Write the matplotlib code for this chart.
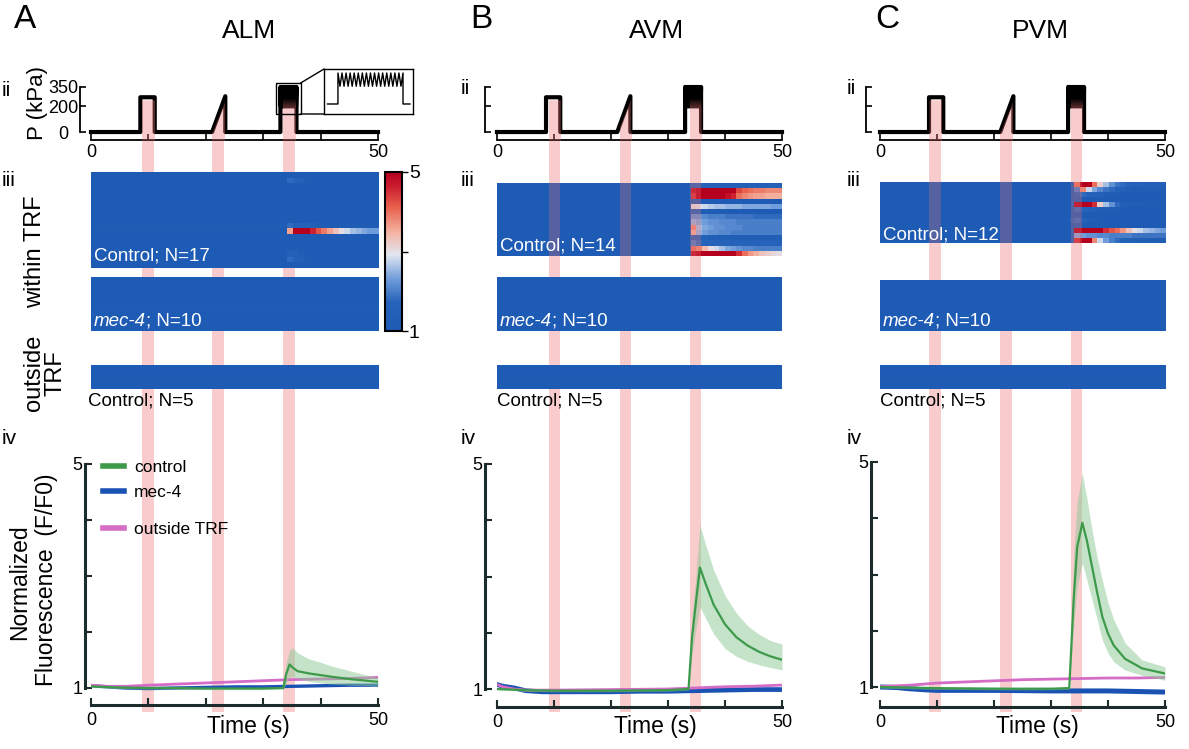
import numpy as np
import matplotlib
matplotlib.use('Agg')
import matplotlib.pyplot as plt
from matplotlib.colors import LinearSegmentedColormap
from matplotlib.patches import Rectangle, ConnectionPatch
from matplotlib.lines import Line2D
from matplotlib.text import Annotation

plt.rcParams['font.family'] = ['Liberation Sans', 'DejaVu Sans']

# ------------------------------------------------------------------ data
T_MAX = 50
titles = ['ALM', 'AVM', 'PVM']
letters = ['A', 'B', 'C']

# stimulus protocol (time s, pressure kPa)
press_t_pre = [0, 8.6, 8.6, 11.1, 11.1, 21.1, 23.4, 23.4, 33.0]
press_v_pre = [0, 0, 270, 270, 0, 0, 278, 0, 0]
osc_vals = [350, 200, 350, 200, 350, 200, 350, 200, 350, 200, 350, 200, 350,
            200, 350, 200, 350, 200, 350, 200, 350, 200, 350, 200, 350, 200,
            350, 200, 350, 200, 350, 200, 350]
osc_start, osc_end = 33.0, 35.8
press_t_post = [35.8, 50]
press_v_post = [0, 0]

# pink stimulus windows per cell (s)
bands_A = [(8.8, 10.9), (21.0, 23.1), (33.4, 35.5)]
bands_B = [(9.1, 11.1), (21.6, 23.5), (33.9, 35.8)]
bands_C = [(8.6, 10.7), (21.1, 23.2), (33.5, 35.4)]
band_tops = [250, 250, 265]

# heatmaps: rows, per-row constant level, per-row values of 1-s bins from t=33
RESP_BIN0 = 33
A_ctrl_rows = 17
A_ctrl_level = {9: 1.2}
A_ctrl_resp = {
    1: [1.0, 1.8, 1.7, 1.5, 1.3],
    9: [1.2, 1.8, 1.6, 1.7, 1.6, 1.5, 1.4, 1.3],
    10: [1.0, 3.6, 5.0, 5.0, 5.0, 4.6, 4.2, 3.9, 3.6, 3.3, 3.0, 2.8, 2.6, 2.5, 2.4, 2.3, 2.3],
    14: [1.0, 1.6, 1.5, 1.3],
    15: [1.0, 1.8, 1.6, 1.5, 1.3],
}
A_mec_rows = 10
A_mec_level = {5: 1.15}
A_out_rows = 5
A_out_level = {3: 1.1}

B_ctrl_rows = 14
B_ctrl_level = {}
B_ctrl_resp = {
    0: [1.2, 1.6, 1.7, 1.7, 1.6, 1.6, 1.6, 1.5, 1.5, 1.5, 1.5, 1.5, 1.5, 1.5, 1.5, 1.5, 1.5],
    1: [1.0, 4.8, 5.0, 5.0, 5.0, 5.0, 5.0, 5.0, 5.0, 4.3, 4.1, 4.0, 3.9, 3.9, 3.8, 3.8, 3.8],
    2: [1.0, 4.5, 5.0, 5.0, 5.0, 5.0, 5.0, 4.8, 4.6, 4.0, 3.8, 3.7, 3.6, 3.6, 3.5, 3.5, 3.5],
    4: [1.0, 3.0, 2.9, 2.8, 2.7, 2.6, 2.6, 2.5, 2.5, 2.5, 2.4, 2.4, 2.4, 2.4, 2.4, 2.3, 2.3],
    5: [1.0, 1.4, 1.3, 1.3, 1.2, 1.2, 1.2, 1.2],
    6: [1.0, 2.2, 2.2, 2.1, 2.0, 2.0, 2.0, 1.9, 1.9, 1.9, 1.9, 1.9, 1.8, 1.8, 1.8, 1.8, 1.8],
    7: [1.0, 2.5, 2.4, 2.3, 2.2, 2.2, 2.1, 2.1, 2.1, 2.0, 2.0, 2.0, 2.0, 2.0, 2.0, 2.0, 2.0],
    8: [1.0, 3.8, 2.6, 2.4, 2.3, 2.2, 2.2, 2.1, 2.1, 2.1, 2.0, 2.0, 2.0, 2.0, 2.0, 2.0, 2.0],
    9: [1.0, 3.5, 2.5, 2.3, 2.2, 2.2, 2.1, 2.1, 2.0, 2.0, 2.0, 2.0, 2.0, 2.0, 2.0, 2.0, 2.0],
    10: [1.0, 1.6, 1.5, 1.5, 1.4, 1.4, 1.4, 1.4, 1.4, 1.4, 1.4, 1.4, 1.4, 1.4, 1.4, 1.4, 1.4],
    11: [1.0, 2.0, 1.8, 1.7, 1.7, 1.7, 1.7, 1.7, 1.7, 1.7, 1.7, 1.7, 1.7, 1.7, 1.7, 1.7, 1.7],
    12: [1.0, 4.0, 3.8, 3.4, 3.0, 2.8, 2.6, 2.4, 2.3, 2.2, 2.1, 2.1, 2.0, 2.0, 2.0, 2.0, 2.0],
    13: [1.0, 4.8, 5.0, 5.0, 5.0, 5.0, 5.0, 5.0, 5.0, 4.5, 4.0, 3.7, 3.5, 3.3, 3.2, 3.1, 3.0],
}
B_mec_rows = 10
B_mec_level = {}
B_out_rows = 5
B_out_level = {3: 1.1}

C_ctrl_rows = 12
C_ctrl_level = {}
C_ctrl_resp = {
    0: [1.0, 4.0, 5.0, 5.0, 4.0, 3.2, 2.6, 2.2, 1.9, 1.8, 1.7, 1.6, 1.6, 1.5, 1.5, 1.5, 1.5],
    1: [1.0, 2.0, 3.8, 2.8, 2.4, 2.1, 1.9, 1.8, 1.6, 1.5, 1.4, 1.3, 1.3, 1.3, 1.3, 1.3, 1.3],
    2: [1.0, 1.6, 1.8, 1.7, 1.6, 1.5, 1.4, 1.3, 1.2],
    4: [1.0, 5.0, 5.0, 5.0, 4.5, 3.2, 2.6, 2.2, 1.8, 1.5, 1.4, 1.3, 1.3, 1.2, 1.2, 1.2, 1.2],
    5: [1.0, 1.8, 1.7, 1.6, 1.5, 1.4, 1.3, 1.3, 1.2],
    7: [1.5, 1.8, 1.7, 1.4, 1.3, 1.2],
    9: [1.0, 5.0, 5.0, 5.0, 5.0, 5.0, 4.5, 4.2, 4.0, 3.7, 3.3, 3.0, 2.8, 2.6, 2.5, 2.4, 2.3],
    10: [1.0, 2.4, 2.3, 2.2, 2.2, 2.1, 2.1, 2.0, 2.0, 2.0, 2.0, 1.9, 1.9, 1.9, 1.9, 1.9, 1.9],
    11: [1.0, 4.5, 5.0, 5.0, 3.8, 2.8, 2.3, 2.0, 1.8, 1.6, 1.5, 1.4, 1.4, 1.3, 1.3, 1.3, 1.3],
}
C_mec_rows = 10
C_mec_level = {}
C_out_rows = 5
C_out_level = {3: 1.1}

# normalized fluorescence traces (F/F0)
gA_t = [0, 2, 5, 10, 15, 20, 25, 30, 33.5, 34.0, 34.6, 35.2, 36.0, 37, 38, 40, 42, 45, 48, 50]
gA_v = [1.03, 1.02, 1.01, 1.0, 1.0, 0.99, 0.99, 0.99, 1.0, 1.25, 1.42, 1.36, 1.3, 1.28, 1.26, 1.23, 1.2, 1.16, 1.13, 1.11]
gA_hi = [1.05, 1.04, 1.03, 1.02, 1.02, 1.01, 1.01, 1.01, 1.02, 1.45, 1.68, 1.71, 1.63, 1.57, 1.52, 1.46, 1.39, 1.31, 1.23, 1.19]
gA_lo = [1.01, 1.0, 0.99, 0.98, 0.98, 0.97, 0.97, 0.97, 0.98, 1.08, 1.2, 1.2, 1.17, 1.14, 1.12, 1.09, 1.07, 1.05, 1.04, 1.03]
bA_t = [0, 3, 6, 10, 15, 20, 25, 30, 35, 40, 45, 50]
bA_v = [1.04, 1.02, 1.0, 0.99, 1.0, 1.01, 1.02, 1.02, 1.03, 1.04, 1.05, 1.05]
pA_t = [0, 3, 6, 10, 15, 20, 25, 30, 35, 40, 45, 50]
pA_v = [1.05, 1.03, 1.03, 1.05, 1.07, 1.09, 1.11, 1.13, 1.15, 1.16, 1.17, 1.19]

gB_t = [0, 5, 10, 20, 30, 33.6, 34.2, 34.8, 35.6, 36.5, 38, 40, 42, 44, 46, 48, 50]
gB_v = [1.0, 0.98, 0.97, 0.97, 0.98, 1.0, 1.9, 2.45, 3.16, 2.9, 2.5, 2.15, 1.92, 1.77, 1.66, 1.58, 1.52]
gB_hi = [1.02, 1.0, 0.99, 0.99, 1.0, 1.02, 2.3, 2.9, 3.92, 3.6, 3.12, 2.66, 2.35, 2.12, 1.97, 1.86, 1.8]
gB_lo = [0.98, 0.96, 0.95, 0.95, 0.96, 0.98, 1.6, 2.0, 2.46, 2.28, 1.98, 1.72, 1.58, 1.49, 1.43, 1.38, 1.34]
bB_t = [0, 1, 3, 5, 8, 12, 20, 25, 30, 35, 40, 45, 50]
bB_v = [1.08, 1.05, 1.02, 0.97, 0.95, 0.95, 0.95, 0.96, 0.96, 0.97, 0.98, 0.99, 0.99]
pB_t = [0, 1, 3, 5, 10, 20, 30, 35, 40, 45, 50]
pB_v = [1.08, 1.04, 1.0, 0.98, 0.98, 0.99, 1.0, 1.02, 1.04, 1.05, 1.07]

gC_t = [0, 5, 10, 20, 30, 33.2, 34.0, 34.6, 35.5, 36.3, 37.2, 38.1, 39, 40, 41, 43, 46, 50]
gC_v = [1.0, 0.99, 0.98, 0.97, 0.97, 0.98, 2.6, 3.49, 3.92, 3.6, 3.14, 2.68, 2.25, 1.95, 1.74, 1.5, 1.33, 1.24]
gC_hi = [1.02, 1.01, 1.0, 0.99, 0.99, 1.0, 3.4, 4.3, 4.8, 4.35, 3.79, 3.3, 2.9, 2.5, 2.2, 1.78, 1.48, 1.36]
gC_lo = [0.98, 0.97, 0.96, 0.95, 0.95, 0.96, 2.1, 2.8, 3.2, 2.9, 2.55, 2.2, 1.84, 1.6, 1.45, 1.3, 1.21, 1.12]
bC_t = [0, 3, 5, 8, 10, 15, 20, 30, 40, 50]
bC_v = [1.0, 0.99, 0.97, 0.95, 0.94, 0.94, 0.94, 0.93, 0.93, 0.91]
pC_t = [0, 5, 10, 15, 20, 25, 30, 35, 40, 45, 50]
pC_v = [1.01, 1.03, 1.07, 1.09, 1.11, 1.13, 1.14, 1.15, 1.16, 1.16, 1.17]

legend_labels = ['control', 'mec-4', 'outside TRF']
ctrl_labels = ['Control; N=17', 'Control; N=14', 'Control; N=12']

# ------------------------------------------------------------------ style
W, H = 1189, 749
BAND = '#ec7272'
BAND_A = 0.36
GREEN, GREEN_FILL = '#3d9a4b', '#8cc995'
BLUE, PINK = '#1a52b3', '#d56cc6'
SPINE = '#1c2b2b'
cmap = LinearSegmentedColormap.from_list('hm', [
    (0.0, '#1d5bb4'), (0.18, '#2663ba'), (0.33, '#729edb'), (0.48, '#e2e6f0'),
    (0.62, '#f4b3a2'), (0.78, '#e8604c'), (0.9, '#cd2232'), (1.0, '#b4001e')])

fig = plt.figure(figsize=(W / 100, H / 100), dpi=100)


def px_ax(x0, y0, x1, y1):
    ax = fig.add_axes([x0 / W, 1 - y1 / H, (x1 - x0) / W, (y1 - y0) / H])
    ax.set_zorder(2)
    ax.patch.set_alpha(0)
    return ax


def ftext(x, y, s, **kw):
    return fig.text(x / W, 1 - y / H, s, **kw)


def build_hm(n, level, resp):
    m = np.ones((n, T_MAX))
    for r, v in level.items():
        m[r, :] = v
    for r, vals in resp.items():
        m[r, RESP_BIN0:RESP_BIN0 + len(vals)] = vals
    return m


cols = [
    dict(x0=91, x1=378, pspine=11, fspine=6, five=464, one=688, fbot=705,
         ctrl=(172, 268), mec=(277, 331), out=(365, 389), bands=bands_A,
         hm=(A_ctrl_rows, A_ctrl_level, A_ctrl_resp), mecn=(A_mec_rows, A_mec_level),
         outn=(A_out_rows, A_out_level), g=(gA_t, gA_v, gA_hi, gA_lo), b=(bA_t, bA_v), p=(pA_t, pA_v),
         letter=(25, 20), title=(249, 31), lab_x=2, ii=90, iii=181, iv=439,
         ctrl_txt=256, time_x=248, lw_b=2.4),
    dict(x0=497, x1=782, pspine=12, fspine=12, five=464, one=689, fbot=707,
         ctrl=(183, 256), mec=(277, 331), out=(365, 389), bands=bands_B,
         hm=(B_ctrl_rows, B_ctrl_level, B_ctrl_resp), mecn=(B_mec_rows, B_mec_level),
         outn=(B_out_rows, B_out_level), g=(gB_t, gB_v, gB_hi, gB_lo), b=(bB_t, bB_v), p=(pB_t, pB_v),
         letter=(481, 19), title=(657, 31), lab_x=461, ii=89, iii=180, iv=438,
         ctrl_txt=246, time_x=655, lw_b=3.4),
    dict(x0=880, x1=1165, pspine=14, fspine=9, five=462, one=687, fbot=707,
         ctrl=(182, 243), mec=(280, 331), out=(365, 389), bands=bands_C,
         hm=(C_ctrl_rows, C_ctrl_level, C_ctrl_resp), mecn=(C_mec_rows, C_mec_level),
         outn=(C_out_rows, C_out_level), g=(gC_t, gC_v, gC_hi, gC_lo), b=(bC_t, bC_v), p=(pC_t, pC_v),
         letter=(887, 19), title=(1040, 31), lab_x=847, ii=89, iii=180, iv=438,
         ctrl_txt=235, time_x=1037, lw_b=3.6),
]

osc_t = np.linspace(osc_start, osc_end, len(osc_vals))
press_t = np.array(press_t_pre + list(osc_t) + press_t_post)
press_v = np.array(press_v_pre + osc_vals + press_v_post, dtype=float)

for ci, c in enumerate(cols):
    x0, x1 = c['x0'], c['x1']
    # ---- band overlay (behind everything)
    axb = fig.add_axes([x0 / W, 1 - 712 / H, (x1 - x0) / W, (712 - 140) / H])
    axb.set_zorder(0)
    axb.set_xlim(0, T_MAX)
    axb.axis('off')
    for s, e in c['bands']:
        axb.axvspan(s, e, color=BAND, alpha=BAND_A, lw=0)

    # ---- letters / titles
    ftext(*c['letter'], letters[ci], fontsize=24, ha='center', va='center')
    ftext(*c['title'], titles[ci], fontsize=19, ha='center', va='center')
    for key, s in [('ii', 'ii'), ('iii', 'iii'), ('iv', 'iv')]:
        ftext(c['lab_x'], c[key], s, fontsize=15, ha='left', va='center')

    # ---- pressure trace
    axp = px_ax(x0, 80, x1, 140)
    axp.plot(press_t, press_v, color='k', lw=3.0, solid_joinstyle='round', zorder=2, clip_on=False)
    ylo = -62
    for (s, e), top in zip(c['bands'], band_tops):
        f = axp.fill_between(press_t, ylo, np.minimum(press_v, top), color=BAND, alpha=BAND_A,
                             lw=0, zorder=3)
        f.set_clip_path(Rectangle((s, ylo), e - s, 1000, transform=axp.transData))
    axp.set_xlim(0, T_MAX)
    axp.set_ylim(ylo, 404)
    for sp in ['top', 'right']:
        axp.spines[sp].set_visible(False)
    axp.spines['left'].set_position(('outward', c['pspine'] * 0.72))
    axp.spines['left'].set_bounds(0, 350)
    axp.spines['bottom'].set_bounds(0, T_MAX)
    for sp in ['left', 'bottom']:
        axp.spines[sp].set_linewidth(1.3)
    axp.set_xticks([0, 10, 20, 30, 40, 50])
    axp.set_xticklabels(['0', '', '', '', '', '50'])
    axp.set_yticks([0, 200, 350])
    axp.tick_params(axis='x', direction='in', length=4, width=1.2, labelsize=13, pad=3)
    if ci == 0:
        axp.set_yticklabels(['0', '200', '350'])
        axp.tick_params(axis='y', direction='in', length=4, width=1.2, labelsize=13, pad=12)
        for lab in axp.get_yticklabels():
            lab.set_horizontalalignment('center')
    else:
        axp.set_yticklabels(['', '', ''])
        axp.tick_params(axis='y', direction='in', length=4, width=1.2)

    # ---- heatmaps
    n, lev, resp = c['hm']
    mats = [(build_hm(n, lev, resp), c['ctrl']),
            (build_hm(c['mecn'][0], c['mecn'][1], {}), c['mec']),
            (build_hm(c['outn'][0], c['outn'][1], {}), c['out'])]
    for k, (m, (y0, y1)) in enumerate(mats):
        axh = px_ax(x0, y0, x1, y1)
        im = axh.imshow(m, cmap=cmap, vmin=1, vmax=5, aspect='auto', interpolation='nearest',
                        extent=(0, T_MAX, m.shape[0], 0))
        axh.set_xlim(0, T_MAX)
        axh.axis('off')
        if k == 0 and ci > 0:
            for s, e in c['bands']:
                axh.axvspan(s, e, color=BAND, alpha=0.28, lw=0, zorder=3)
    # texts on heatmaps
    ftext(x0 + 3, c['ctrl_txt'], ctrl_labels[ci], color='white', fontsize=13.5, ha='left', va='center')
    t1 = ftext(x0 + 3, 321, 'mec-4', color='white', fontsize=13.5, style='italic', ha='left', va='center')
    ann = Annotation('; N=10', xy=(1, 0), xycoords=t1, va='bottom', ha='left', color='white',
                     fontsize=13.5, annotation_clip=False)
    fig.add_artist(ann)
    ftext(x0 - 3 if ci == 0 else x0, 401, 'Control; N=5', color='black', fontsize=13.5, ha='left', va='center')

    if ci == 0:
        cax = px_ax(385, 172, 402, 331)
        cb = fig.colorbar(im, cax=cax)
        cb.set_ticks([1, 3, 5])
        cb.set_ticklabels(['1', '', '5'])
        cb.ax.tick_params(direction='out', length=4, width=1, labelsize=14, pad=1)
        cb.outline.set_linewidth(1.5)

    # ---- fluorescence
    ppu = (c['one'] - c['five']) / 4.0
    top_px = 452
    axf = px_ax(x0, top_px, x1, c['fbot'])
    gt, gv, ghi, glo = c['g']
    axf.plot(c['b'][0], c['b'][1], color=BLUE, lw=c['lw_b'], zorder=2)
    axf.plot(c['p'][0], c['p'][1], color=PINK, lw=2.0, zorder=3)
    axf.fill_between(gt, glo, ghi, color=GREEN_FILL, alpha=0.5, lw=0, zorder=4)
    axf.plot(gt, gv, color=GREEN, lw=1.6, zorder=5)
    axf.set_xlim(0, T_MAX)
    axf.set_ylim(1 - (c['fbot'] - c['one']) / ppu, 5 + (c['five'] - top_px) / ppu)
    for sp in ['top', 'right']:
        axf.spines[sp].set_visible(False)
    axf.spines['left'].set_position(('outward', c['fspine'] * 0.72))
    axf.spines['left'].set_bounds(1, 5)
    axf.spines['bottom'].set_bounds(0, T_MAX)
    for sp in ['left', 'bottom']:
        axf.spines[sp].set_linewidth(2.2)
        axf.spines[sp].set_color(SPINE)
    axf.set_xticks([0, 10, 20, 30, 40, 50])
    axf.set_xticklabels(['0', '', '', '', '', '50'])
    axf.set_yticks([1, 2, 3, 4, 5])
    axf.set_yticklabels(['1', '', '', '', '5'])
    axf.tick_params(direction='in', length=5, width=1.5, color=SPINE, labelsize=13, pad=2)
    axf.tick_params(axis='x', pad=5)
    ftext(c['time_x'], 726, 'Time (s)', fontsize=16.5, ha='center', va='center')

    if ci == 0:
        handles = [Line2D([], [], color=GREEN, lw=4), Line2D([], [], color=BLUE, lw=4),
                   Line2D([], [], color=PINK, lw=4)]
        leg1 = axf.legend(handles[:2], legend_labels[:2], loc='upper left',
                          bbox_to_anchor=(96 / W, 1 - 453 / H), bbox_transform=fig.transFigure,
                          frameon=False, fontsize=12.5, handlelength=1.2, handletextpad=0.6,
                          labelspacing=0.55, borderaxespad=0)
        axf.add_artist(leg1)
        axf.legend(handles[2:], legend_labels[2:], loc='upper left',
                   bbox_to_anchor=(96 / W, 1 - 515 / H), bbox_transform=fig.transFigure,
                   frameon=False, fontsize=12.5, handlelength=1.2, handletextpad=0.6,
                   borderaxespad=0)

        # inset of oscillating pulse
        bx0, bx1 = osc_start - 0.8, osc_end + 0.7
        by0, by1 = 140, 380
        axp.add_patch(Rectangle((bx0, by0), bx1 - bx0, by1 - by0, fill=False, ec='k', lw=1.0,
                                clip_on=False, zorder=4))
        axi = px_ax(324, 69, 413, 114)
        in_t = [-0.45, 0.0] + list(np.linspace(0.0, osc_end - osc_start, len(osc_vals))) + [osc_end - osc_start, 3.1]
        in_v = [0, 0] + osc_vals + [0, 0]
        axi.plot(in_t, in_v, color='k', lw=1.0)
        axi.set_xlim(-0.6, 3.23)
        axi.set_ylim(-113, 395)
        axi.set_xticks([])
        axi.set_yticks([])
        for sp in axi.spines.values():
            sp.set_linewidth(1.0)
        for (xa, ya), (xb, yb) in [((bx1, by1), (0, 1)), ((bx1, by0), (0, 0))]:
            con = ConnectionPatch(xyA=(xa, ya), coordsA='data', axesA=axp,
                                  xyB=(xb, yb), coordsB='axes fraction', axesB=axi,
                                  color='k', lw=1.0)
            fig.add_artist(con)

# left-side labels for column A
ftext(37, 103, 'P (kPa)', fontsize=16, rotation=90, ha='center', va='center')
ftext(35, 252, 'within TRF', fontsize=17, rotation=90, ha='center', va='center')
ftext(45, 373, 'outside\nTRF', fontsize=17, rotation=90, ha='center', va='center', linespacing=1.0)
ftext(20, 582, 'Normalized', fontsize=16.5, rotation=90, ha='center', va='center')
ftext(46, 580, 'Fluorescence  (F/F0)', fontsize=16.5, rotation=90, ha='center', va='center')

fig.savefig('out.png', dpi=100)
